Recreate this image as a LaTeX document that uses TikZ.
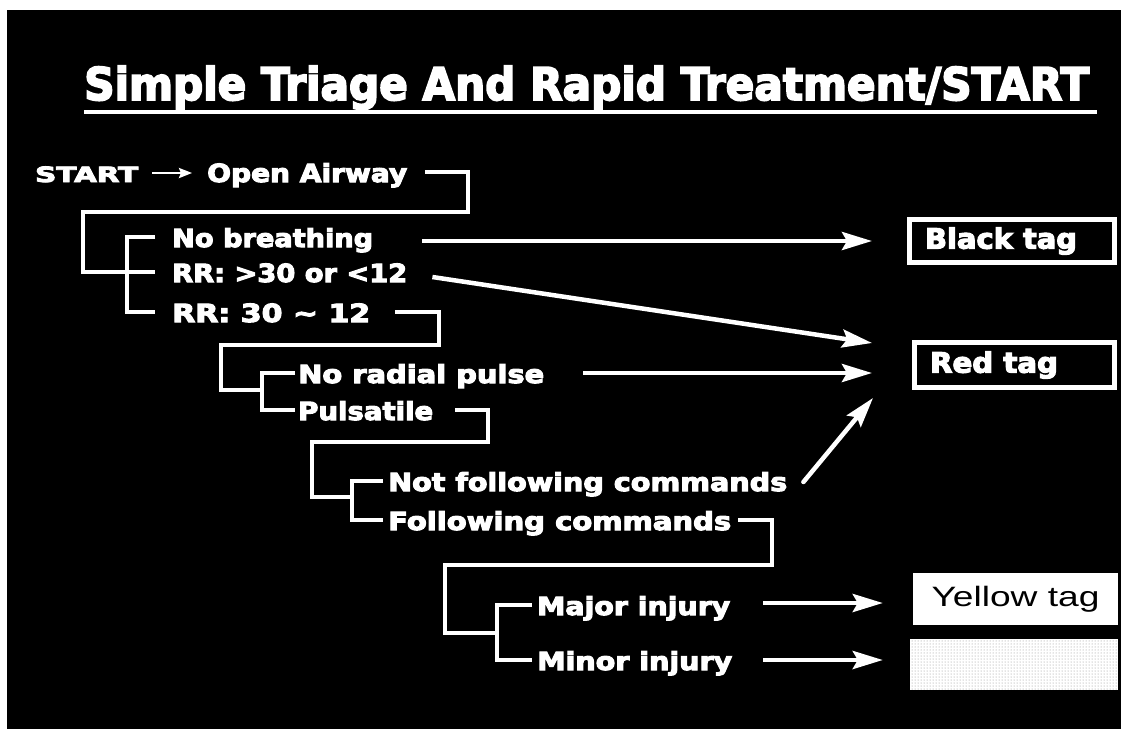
\documentclass[tikz,border=0pt]{standalone}
\usepackage{graphicx}
\usepackage{fontspec}
\usetikzlibrary{arrows.meta,patterns}
\newfontfamily\heavy{DejaVu Sans Bold}[FakeBold=4]
\newfontfamily\plainsans{Liberation Sans}
\newsavebox\fitbox
\newcommand\fitto[2]{\sbox\fitbox{#2}\pgfmathsetmacro\fitratio{#1/\the\wd\fitbox}\scalebox{\fitratio}[1]{\usebox\fitbox}}
\tikzset{
  lbl/.style={text=white, inner sep=0pt, anchor=west, text height=20pt, text depth=0pt,
    font=\heavy\fontsize{25}{28}\selectfont},
  bline/.style={draw=white, line width=4pt, line join=miter},
  arr/.style={draw=white, line width=4.5pt, -{Stealth[length=30pt,width=18pt,inset=5pt]}},
  smallarr/.style={draw=white, line width=2.5pt, -{Stealth[length=13pt,width=10pt,inset=2pt]}},
  darktag/.style={draw=white, line width=5pt, fill=black, text=white, inner sep=0pt,
    font=\heavy\fontsize{28}{30}\selectfont},
  lighttag/.style={fill=white, inner sep=0pt, text=black,
    font=\plainsans\fontsize{28}{30}\selectfont}
}
\begin{document}
\begin{tikzpicture}[x=1pt,y=-1pt]
\useasboundingbox (0,0) rectangle (1121,728);
\fill[white] (0,0) rectangle (1121,728);
\fill[black] (7,10) rectangle (1140,750);

% title
\node[text=white, inner sep=0pt, anchor=base west, font=\heavy\fontsize{45}{48}\selectfont]
  (title) at (84,100) {\fitto{1005}{Simple Triage And Rapid Treatment/START}};
\draw[white, line width=4pt] (84,112) -- (1097,112);

% texts
\node[lbl, font=\heavy\fontsize{21}{24}\selectfont] (start) at (35,172) {\fitto{103}{START}};
\node[lbl] (oa)  at (207,172) {\fitto{200}{Open Airway}};
\node[lbl] (nb)  at (172,237) {\fitto{201}{No breathing}};
\node[lbl] (rr1) at (172,272) {\fitto{235}{RR: >30 or <12}};
\node[lbl] (rr2) at (172,312) {\fitto{198}{RR: 30 \char"223C{} 12}};
\node[lbl] (nrp) at (298,373) {\fitto{246}{No radial pulse}};
\node[lbl] (pul) at (298,410) {\fitto{135}{Pulsatile}};
\node[lbl] (nfc) at (388,481) {\fitto{399}{Not following commands}};
\node[lbl] (fc)  at (388,520) {\fitto{343}{Following commands}};
\node[lbl] (maj) at (537,605) {\fitto{193}{Major injury}};
\node[lbl] (mnr) at (537,660) {\fitto{195}{Minor injury}};

% tags
\node[darktag, minimum width=205pt, minimum height=43pt] (black) at (1012,241)
  {\fitto{152}{Black tag}\kern22pt\relax};
\node[darktag, minimum width=200pt, minimum height=45pt] (red) at (1014.5,365)
  {\fitto{128}{Red tag}\kern41pt\relax};
\node[lighttag, minimum width=205pt, minimum height=52pt] (yellow) at (1015.5,599)
  {\fitto{168}{Yellow tag}};
\node[fill=white, inner sep=0pt, minimum width=208pt, minimum height=51pt,
  postaction={pattern=dots, pattern color=black!45}] (green) at (1014,664.5) {};

% coordinates of bracket corners
\coordinate (bk1) at (468,212);
\coordinate (bl1) at (83,212);
\coordinate (iv1) at (127,272);
\coordinate (bk2) at (439,345);
\coordinate (bl2) at (221,345);
\coordinate (iv2) at (262,390);
\coordinate (bk3) at (488,442);
\coordinate (bl3) at (312,442);
\coordinate (iv3) at (352,497);
\coordinate (bk4) at (772,565);
\coordinate (bl4) at (445,565);
\coordinate (iv4) at (497,633);

% brackets
\draw[bline] ([xshift=18pt]oa.east) -| (bk1) -- (bl1) |- ([xshift=-17pt]rr1.west);
\draw[bline] ([xshift=-17pt]nb.west) -| (iv1) |- ([xshift=-17pt]rr2.west);

\draw[bline] ([xshift=25pt]rr2.east) -| (bk2) -- (bl2) |- (iv2);
\draw[bline] ([xshift=-3pt]nrp.west) -| (iv2) |- ([xshift=-3pt]pul.west);

\draw[bline] ([xshift=22pt]pul.east) -| (bk3) -- (bl3) |- (iv3);
\draw[bline] ([xshift=-5pt]nfc.west) -| (iv3) |- ([xshift=-5pt]fc.west);

\draw[bline] ([xshift=7pt]fc.east) -| (bk4) -- (bl4) |- (iv4);
\draw[bline] ([xshift=-5pt]maj.west) -| (iv4) |- ([xshift=-5pt]mnr.west);

% arrows
\draw[smallarr] ([shift={(14,1)}]start.east) -- ([shift={(-15,1)}]oa.west);
\draw[arr] ([shift={(49,4)}]nb.east) -- ([shift={(-35,0)}]black.west);
\draw[arr] ([shift={(25,5)}]rr1.east) -- ([shift={(-40,-22)}]red.west);
\draw[arr] ([shift={(39,0)}]nrp.east) -- ([shift={(-40,8)}]red.west);
\draw[arr, line cap=round] ([shift={(16,1)}]nfc.east) -- ([shift={(-39,33)}]red.west);
\draw[arr] ([shift={(33,-2)}]maj.east) -- ([shift={(-30,4)}]yellow.west);
\draw[arr] ([shift={(31,0)}]mnr.east) -- ([shift={(-27,-4.5)}]green.west);
\end{tikzpicture}
\end{document}
